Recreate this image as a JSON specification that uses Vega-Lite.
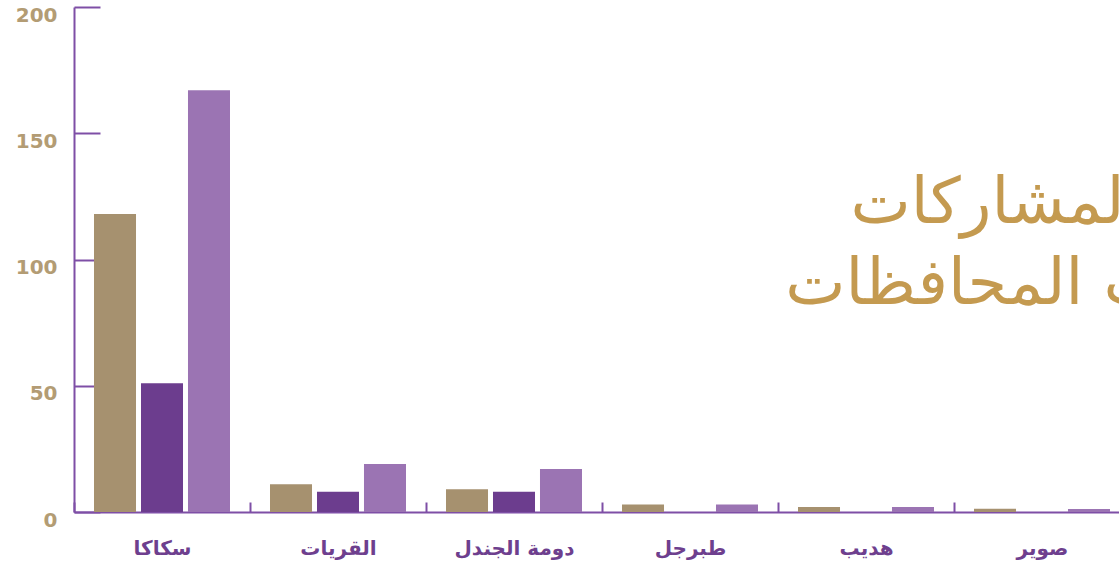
{
  "$schema": "https://vega.github.io/schema/vega-lite/v6.json",
  "autosize": "none",
  "width": 1045,
  "height": 505,
  "padding": {"left": 74, "top": 7, "right": 0, "bottom": 55},
  "background": "white",
  "title": {
    "text": ["عدد المشاركات", "حسب المحافظات"],
    "anchor": "end",
    "orient": "top",
    "frame": "group",
    "color": "#c49a50",
    "fontSize": 64,
    "font": "DejaVu Sans",
    "fontWeight": "normal",
    "lineHeight": 81,
    "baseline": "bottom",
    "offset": 0,
    "dx": 144,
    "dy": 376
  },
  "data": {
    "values": [
      {"city": "سكاكا", "series": "أ", "value": 118},
      {"city": "سكاكا", "series": "ب", "value": 51},
      {"city": "سكاكا", "series": "ج", "value": 167},
      {"city": "القريات", "series": "أ", "value": 11},
      {"city": "القريات", "series": "ب", "value": 8},
      {"city": "القريات", "series": "ج", "value": 19},
      {"city": "دومة الجندل", "series": "أ", "value": 9},
      {"city": "دومة الجندل", "series": "ب", "value": 8},
      {"city": "دومة الجندل", "series": "ج", "value": 17},
      {"city": "طبرجل", "series": "أ", "value": 3},
      {"city": "طبرجل", "series": "ب", "value": 0},
      {"city": "طبرجل", "series": "ج", "value": 3},
      {"city": "هديب", "series": "أ", "value": 2},
      {"city": "هديب", "series": "ب", "value": 0},
      {"city": "هديب", "series": "ج", "value": 2},
      {"city": "صوير", "series": "أ", "value": 1.3},
      {"city": "صوير", "series": "ب", "value": 0},
      {"city": "صوير", "series": "ج", "value": 1.2}
    ]
  },
  "mark": {"type": "bar"},
  "encoding": {
    "x": {
      "field": "city",
      "type": "nominal",
      "sort": null,
      "scale": {"range": [0, 1056], "paddingInner": 0, "paddingOuter": 0},
      "axis": {
        "title": null,
        "tickBand": "extent",
        "tickSize": -10,
        "tickColor": "#7e4fa6",
        "tickWidth": 2,
        "domainColor": "#7e4fa6",
        "domainWidth": 2,
        "labelAngle": 0,
        "labelColor": "#6e3f8e",
        "labelFont": "DejaVu Sans",
        "labelFontWeight": "bold",
        "labelFontSize": 20,
        "labelPadding": 36,
        "grid": false
      }
    },
    "xOffset": {
      "field": "series",
      "sort": null,
      "scale": {"paddingInner": 0.106, "paddingOuter": 0.4255}
    },
    "y": {
      "field": "value",
      "type": "quantitative",
      "scale": {"domain": [0, 200], "nice": false},
      "axis": {
        "title": null,
        "values": [0, 50, 100, 150, 200],
        "tickSize": -26,
        "tickColor": "#7e4fa6",
        "tickWidth": 2,
        "domainColor": "#7e4fa6",
        "domainWidth": 2,
        "labelColor": "#b39c74",
        "labelFont": "DejaVu Sans",
        "labelFontWeight": "bold",
        "labelFontSize": 20,
        "labelPadding": 43,
        "labelOffset": 8,
        "grid": false
      }
    },
    "color": {
      "field": "series",
      "type": "nominal",
      "sort": null,
      "scale": {"range": ["#a6916f", "#6c3d8e", "#9b74b3"]},
      "legend": null
    }
  },
  "config": {"view": {"stroke": null}}
}
